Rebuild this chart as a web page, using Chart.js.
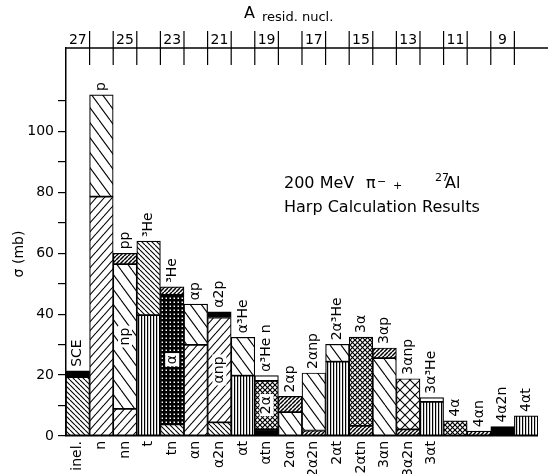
<!DOCTYPE html>
<html>
<head>
<meta charset="utf-8">
<script src="https://cdn.jsdelivr.net/npm/chart.js@4"></script>
<style>
  body { margin: 0; background: #fff; }
</style>
</head>
<body>
<canvas id="chart" width="548" height="474"></canvas>
<script>
// A of the residual nucleus, one per column
const residA = [27, 26, 25, 24, 23, 22, 21, 20, 19, 18, 17, 16, 15, 14, 13, 12, 11, 10, 9, 8];

// channel names: under the bar, inside the middle segment, above the bar
const lowerNames = ['inel.', 'n', 'nn', 't', 'tn', 'αn', 'α2n', 'αt', 'αtn', '2αn', '2α2n', '2αt', '2αtn', '3αn', '3α2n', '3αt', '', '', '', ''];
const innerNames = ['', '', 'np', '', 'α', '', 'αnp', '', '2α', '', '', '', '', '', '', '', '', '', '', ''];
const upperNames = ['SCE', 'p', 'pp', '³He', '³He', 'αp', 'α2p', 'α³He', 'α³He n', '2αp', '2αnp', '2α³He', '3α', '3αp', '3αnp', '3α³He', '4α', '4αn', '4α2n', '4αt'];

// segment heights in mb, bottom to top
const lowerValues = [19.3, 78.6, 8.9, 39.7, 3.8, 29.9, 4.5, 19.8, 2.2, 7.8, 1.8, 24.4, 3.3, 25.6, 2.2, 11.2, 5.0, 1.6, 3.1, 6.6];
const middleValues = [2.1, 33.4, 47.5, 24.3, 42.5, 13.4, 34.4, 12.6, 15.9, 5.2, 18.9, 5.7, 29.2, 3.3, 16.6, 1.4, null, null, null, null];
const topValues = [null, null, 3.6, null, 2.7, null, 1.9, null, 1.7, null, null, null, null, null, null, null, null, null, null, null];

// fill of each segment
const lowerFill = ['bsDense', 'fwd', 'fwd', 'vert', 'bsDense', 'fwd', 'bsDense', 'vert', 'black', 'bsWide', 'fwdDense', 'vert', 'fwdDense', 'bsWide', 'fwdDense', 'vert', 'xMed', 'fwdDense', 'black', 'vert'];
const middleFill = ['black', 'bsWide', 'bsWide', 'bsDense', 'xDark', 'bsWide', 'fwd', 'bsWide', 'xMed', 'fwdDense', 'bsWide', 'bsWide', 'xMed', 'fwdDense', 'xLight', 'white', null, null, null, null];
const topFill = [null, null, 'fwdDense', null, 'fwdDense', null, 'black', null, 'white', null, null, null, null, null, null, null, null, null, null, null];

const yTicks = [0, 10, 20, 30, 40, 50, 60, 70, 80, 90, 100, 110];

const FONT = '"DejaVu Sans", sans-serif';

function hatch(kind) {
  if (kind === 'white') return '#fff';
  if (kind === 'black') return '#000';
  const c = document.createElement('canvas');
  const g = c.getContext('2d');
  const line = (x1, y1, x2, y2) => { g.beginPath(); g.moveTo(x1, y1); g.lineTo(x2, y2); g.stroke(); };
  const start = (w, h, lw) => {
    c.width = w; c.height = h;
    g.fillStyle = '#fff';
    g.fillRect(0, 0, w, h);
    g.strokeStyle = '#000';
    g.lineWidth = lw;
  };
  const diag = (w, h, back, lw) => {
    for (const dx of [-w, 0, w]) {
      if (back) line(dx, 0, dx + w, h);
      else line(dx, h, dx + w, 0);
    }
  };
  switch (kind) {
    case 'bsDense': start(5, 5, 1.1); diag(5, 5, true); break;
    case 'bsWide': start(11, 15, 1.1); diag(11, 15, true); break;
    case 'fwd': start(8, 9, 1.1); diag(8, 9, false); break;
    case 'fwdDense': start(4, 4, 1.5); diag(4, 4, false); break;
    case 'vert': start(3, 3, 1.2); line(0.6, 0, 0.6, 3); break;
    case 'xMed': start(5, 5, 1.2); diag(5, 5, true); diag(5, 5, false); break;
    case 'xLight': start(10, 10, 1.1); diag(10, 10, true); diag(10, 10, false); break;
    case 'xDark':
      c.width = 4; c.height = 4;
      g.fillStyle = '#000'; g.fillRect(0, 0, 4, 4);
      g.fillStyle = '#fff'; g.fillRect(1.5, 1.5, 1.5, 1.5);
      break;
  }
  return g.createPattern(c, 'repeat');
}

const fills = arr => arr.map(k => (k ? hatch(k) : '#fff'));

function rotText(ctx, text, x, y, align) {
  ctx.save();
  ctx.translate(x, y);
  ctx.rotate(-Math.PI / 2);
  ctx.textAlign = align;
  ctx.textBaseline = 'middle';
  ctx.fillText(text, 0, 0);
  ctx.restore();
}

const annotate = {
  id: 'annotate',
  afterDraw(chart) {
    const { ctx, chartArea: area, scales: { x, y } } = chart;
    ctx.save();
    ctx.fillStyle = '#000';
    ctx.strokeStyle = '#000';
    ctx.font = '14px ' + FONT;

    // labels above and inside the bars
    residA.forEach((a, i) => {
      const cx = x.getPixelForValue(i);
      const total = (lowerValues[i] || 0) + (middleValues[i] || 0) + (topValues[i] || 0);
      rotText(ctx, upperNames[i], cx, y.getPixelForValue(total) - 4, 'left');
      if (innerNames[i]) {
        const cy = y.getPixelForValue(lowerValues[i] + middleValues[i] / 2);
        const w = ctx.measureText(innerNames[i]).width;
        ctx.fillStyle = '#fff';
        ctx.fillRect(cx - 7, cy - w / 2 - 2, 14, w + 4);
        ctx.fillStyle = '#000';
        rotText(ctx, innerNames[i], cx, cy, 'center');
      }
    });

    // top axis: A of residual nucleus
    ctx.lineWidth = 1.5;
    ctx.beginPath();
    ctx.moveTo(area.left - 1, area.top);
    ctx.lineTo(chart.width, area.top);
    ctx.stroke();
    ctx.lineWidth = 1.2;
    for (let i = 1; i < residA.length; i++) {
      const bx = (x.getPixelForValue(i - 1) + x.getPixelForValue(i)) / 2;
      ctx.beginPath();
      ctx.moveTo(bx, area.top - 17);
      ctx.lineTo(bx, area.top + 17);
      ctx.stroke();
    }
    ctx.textAlign = 'center';
    ctx.textBaseline = 'alphabetic';
    residA.forEach((a, i) => {
      if (a % 2) ctx.fillText(String(a), x.getPixelForValue(i), area.top - 4);
    });
    ctx.textAlign = 'left';
    ctx.font = '16px ' + FONT;
    ctx.fillText('A', 244, 18);
    ctx.font = '13px ' + FONT;
    ctx.fillText('resid. nucl.', 262, 21);

    // y title
    ctx.font = '14px ' + FONT;
    rotText(ctx, 'σ (mb)', 19, 254, 'center');

    // reaction note
    ctx.font = '16px ' + FONT;
    ctx.fillText('200 MeV', 284, 188);
    ctx.fillText('π', 366, 188);
    ctx.fillText('Al', 445, 188);
    ctx.fillText('Harp Calculation Results', 284, 212);
    ctx.font = '11px ' + FONT;
    ctx.fillText('−', 377, 185);
    ctx.fillText('+', 393, 189);
    ctx.fillText('27', 435, 181);
    ctx.restore();
  }
};

const segment = (data, fill) => ({
  data: data,
  backgroundColor: fills(fill),
  borderColor: '#000',
  borderWidth: 1.2,
  borderSkipped: false,
  categoryPercentage: 1,
  barPercentage: 1
});

new Chart(document.getElementById('chart'), {
  type: 'bar',
  data: {
    labels: lowerNames,
    datasets: [
      segment(lowerValues, lowerFill),
      segment(middleValues, middleFill),
      segment(topValues, topFill)
    ]
  },
  options: {
    responsive: false,
    animation: false,
    layout: { padding: { top: 48, right: 1, left: 0, bottom: 0 } },
    plugins: { legend: { display: false }, tooltip: { enabled: false } },
    scales: {
      x: {
        stacked: true,
        grid: { display: false, drawTicks: false },
        border: { display: true, color: '#000', width: 1.5 },
        ticks: {
          color: '#000',
          font: { family: FONT, size: 14 },
          minRotation: 90,
          maxRotation: 90,
          autoSkip: false,
          padding: 5
        },
        afterFit: s => { s.height = 38; }
      },
      y: {
        stacked: true,
        min: 0,
        max: 127.4,
        afterBuildTicks: s => { s.ticks = yTicks.map(v => ({ value: v })); },
        grid: { drawOnChartArea: false, color: '#000', tickLength: 8, lineWidth: 1.2 },
        border: { display: true, color: '#000', width: 1.5 },
        ticks: {
          color: '#000',
          font: { family: FONT, size: 14 },
          padding: 4,
          callback: v => (v % 20 === 0 ? String(v) : '')
        },
        afterFit: s => { s.width = 66; }
      }
    }
  },
  plugins: [annotate]
});
</script>
</body>
</html>
